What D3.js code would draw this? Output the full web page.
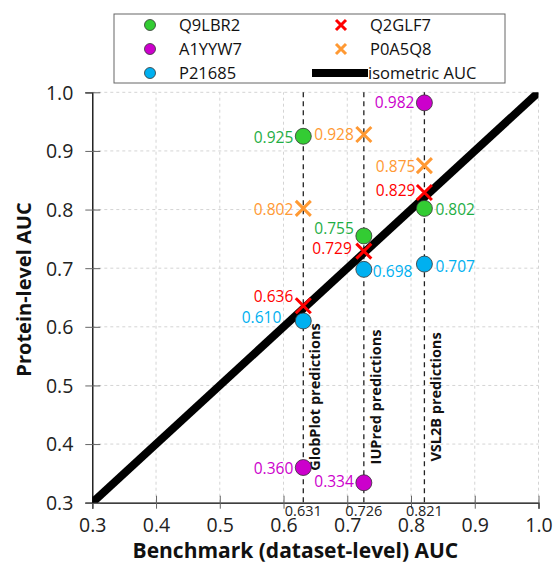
<!DOCTYPE html>
<html><head><meta charset="utf-8">
<script src="https://cdn.jsdelivr.net/npm/d3@7"></script>
<style>body{margin:0;background:#fff}svg{display:block}text{font-family:"Open Sans",sans-serif}</style>
</head><body><svg id="c" width="553" height="567"></svg>
<script>
// ---- data ----
const predictors = ["GlobPlot predictions", "IUPred predictions", "VSL2B predictions"];
const benchmarkAUC = [0.631, 0.726, 0.821];
const proteins = ["Q9LBR2", "A1YYW7", "P21685", "Q2GLF7", "P0A5Q8"];
const Q9LBR2 = [0.925, 0.755, 0.802];
const A1YYW7 = [0.360, 0.334, 0.982];
const P21685 = [0.610, 0.698, 0.707];
const Q2GLF7 = [0.636, 0.729, 0.829];
const P0A5Q8 = [0.802, 0.928, 0.875];
const seriesValues = [Q9LBR2, A1YYW7, P21685, Q2GLF7, P0A5Q8];
const xTicks = [0.3, 0.4, 0.5, 0.6, 0.7, 0.8, 0.9, 1.0];
const yTicks = [0.3, 0.4, 0.5, 0.6, 0.7, 0.8, 0.9, 1.0];

// ---- styles ----
const markerType = ["circle", "circle", "circle", "x", "x"];
const fillColor = ["#33cc33", "#cc00cc", "#00b0f0", "#ff0000", "#ff9933"];
const textColor = ["#1fae45", "#cc00cc", "#00b0f0", "#ff0000", "#ff9933"];
// label offsets [series][predictor] = [dx, dy, anchor]
const labelOff = [
  [[-10,1,"end"],[-10,-7,"end"],[11,1,"start"]],
  [[-10,1,"end"],[-10,-1,"end"],[-10,0,"end"]],
  [[-22,-3,"end"],[9,2,"start"],[11,2,"start"]],
  [[-10,-9,"end"],[-12,-3,"end"],[-9,-2,"end"]],
  [[-10,1,"end"],[-10,0,"end"],[-9,1,"end"]]
];

const svg = d3.select("#c");
const x = d3.scaleLinear().domain([0.3, 1.0]).range([92.3, 538.5]);
const y = d3.scaleLinear().domain([0.3, 1.0]).range([502.7, 92.3]);

// gridlines
const grid = svg.append("g");
grid.selectAll(".gx").data(xTicks.slice(1)).join("line")
  .attr("x1", d => x(d)).attr("x2", d => x(d)).attr("y1", y(0.3)).attr("y2", y(1.0))
  .attr("stroke", "#d4d4d4").attr("stroke-dasharray", "3,3").attr("stroke-width", 1);
grid.selectAll(".gy").data(yTicks.slice(1)).join("line")
  .attr("x1", x(0.3)).attr("x2", x(1.0)).attr("y1", d => y(d)).attr("y2", d => y(d))
  .attr("stroke", "#d4d4d4").attr("stroke-dasharray", "3,3").attr("stroke-width", 1);

// vertical dashed predictor lines
svg.selectAll(".vl").data(benchmarkAUC).join("line")
  .attr("x1", d => x(d)).attr("x2", d => x(d)).attr("y1", y(1.0)).attr("y2", y(0.3))
  .attr("stroke", "#222").attr("stroke-width", 1.3).attr("stroke-dasharray", "5,4");

// axes
const xAxis = svg.append("g").attr("transform", `translate(0,${y(0.3)})`)
  .call(d3.axisBottom(x).tickValues(xTicks).tickFormat(d3.format(".1f")).tickSize(6).tickPadding(9));
xAxis.select(".domain").attr("stroke", "#000").attr("stroke-width", 1.3);
xAxis.selectAll(".tick line").attr("y1", -7).attr("y2", 6).attr("stroke", "#666");
xAxis.selectAll(".tick text").attr("font-size", 19.5).attr("fill", "#222").attr("dy", "0.71em");

const yAxis = svg.append("g").attr("transform", `translate(${x(0.3)},0)`)
  .call(d3.axisLeft(y).tickValues(yTicks).tickFormat(d3.format(".1f")).tickSize(7).tickPadding(12));
yAxis.select(".domain").attr("stroke", "#000").attr("stroke-width", 1.3);
yAxis.selectAll(".tick line").attr("x1", -7).attr("x2", 8).attr("stroke", "#666");
yAxis.selectAll(".tick text").attr("font-size", 19.5).attr("fill", "#222").attr("dy", "0.35em");

// benchmark value labels under axis
svg.selectAll(".bl").data(benchmarkAUC).join("text")
  .attr("x", d => x(d)).attr("y", 516).attr("text-anchor", "middle")
  .attr("font-size", 14.5).attr("fill", "#222").text(d => d3.format(".3f")(d));

// isometric line clipped
svg.append("clipPath").attr("id", "pc").append("rect")
  .attr("x", x(0.3)).attr("y", y(1.0)).attr("width", x(1.0) - x(0.3)).attr("height", y(0.3) - y(1.0));
svg.append("line").attr("clip-path", "url(#pc)")
  .attr("x1", x(0.3)).attr("y1", y(0.3)).attr("x2", x(1.0)).attr("y2", y(1.0))
  .attr("stroke", "#000").attr("stroke-width", 8);

// predictor labels (rotated)
svg.selectAll(".pl").data(predictors).join("text")
  .attr("transform", (d, i) => `translate(${x(benchmarkAUC[i]) + 17},397) rotate(-90)`)
  .attr("text-anchor", "middle").attr("font-size", 14.5).attr("font-weight", "bold")
  .attr("fill", "#111").text(d => d);

// markers
function drawMarker(g, type, color, r) {
  if (type === "circle") {
    g.append("circle").attr("r", r).attr("fill", color).attr("stroke", "#333").attr("stroke-width", 0.8);
  } else {
    const s = r;
    g.append("path").attr("d", `M${-s},${-s}L${s},${s}M${-s},${s}L${s},${-s}`)
      .attr("stroke", color).attr("stroke-width", 3).attr("fill", "none");
  }
}
seriesValues.forEach((vals, si) => {
  vals.forEach((v, pi) => {
    const g = svg.append("g").attr("transform", `translate(${x(benchmarkAUC[pi])},${y(v)})`);
    drawMarker(g, markerType[si], fillColor[si], markerType[si] === "circle" ? 8 : 7.5);
    const o = labelOff[si][pi];
    g.append("text").attr("x", o[0]).attr("y", o[1]).attr("dy", "0.35em")
      .attr("text-anchor", o[2]).attr("font-size", 15.5).attr("fill", textColor[si])
      .text(d3.format(".3f")(v));
  });
});

// axis titles
svg.append("text").attr("x", (x(0.3) + x(1.0)) / 2 - 20).attr("y", 558).attr("text-anchor", "middle")
  .attr("font-size", 21).attr("font-weight", "bold").attr("fill", "#111")
  .text("Benchmark (dataset-level) AUC");
svg.append("text").attr("transform", `translate(31,${(y(0.3) + y(1.0)) / 2 - 8}) rotate(-90)`)
  .attr("text-anchor", "middle").attr("font-size", 20).attr("font-weight", "bold").attr("fill", "#111")
  .text("Protein-level AUC");

// legend
const lg = svg.append("g");
lg.append("rect").attr("x", 114).attr("y", 14).attr("width", 391).attr("height", 69)
  .attr("fill", "#fff").attr("stroke", "#666").attr("stroke-width", 1);
const legendItems = proteins.map((p, i) => ({ name: p, type: markerType[i], color: fillColor[i] }))
  .concat([{ name: "isometric AUC", type: "line" }]);
const legPos = [[150, 25], [150, 49], [150, 73], [341, 25], [341, 49], [341, 73]];
legendItems.forEach((it, i) => {
  const [lx, ly] = legPos[i];
  if (it.type === "line") {
    lg.append("line").attr("x1", 312).attr("x2", 368).attr("y1", ly).attr("y2", ly)
      .attr("stroke", "#000").attr("stroke-width", 8);
    lg.append("text").attr("x", 368).attr("y", ly).attr("dy", "0.35em").attr("font-size", 16.5)
      .attr("fill", "#111").text(it.name);
  } else {
    const g = lg.append("g").attr("transform", `translate(${lx},${ly})`);
    drawMarker(g, it.type, it.color, it.type === "circle" ? 5.5 : 5);
    lg.append("text").attr("x", lx + 29).attr("y", ly).attr("dy", "0.35em").attr("font-size", 16.5)
      .attr("fill", "#111").text(it.name);
  }
});
</script></body></html>
